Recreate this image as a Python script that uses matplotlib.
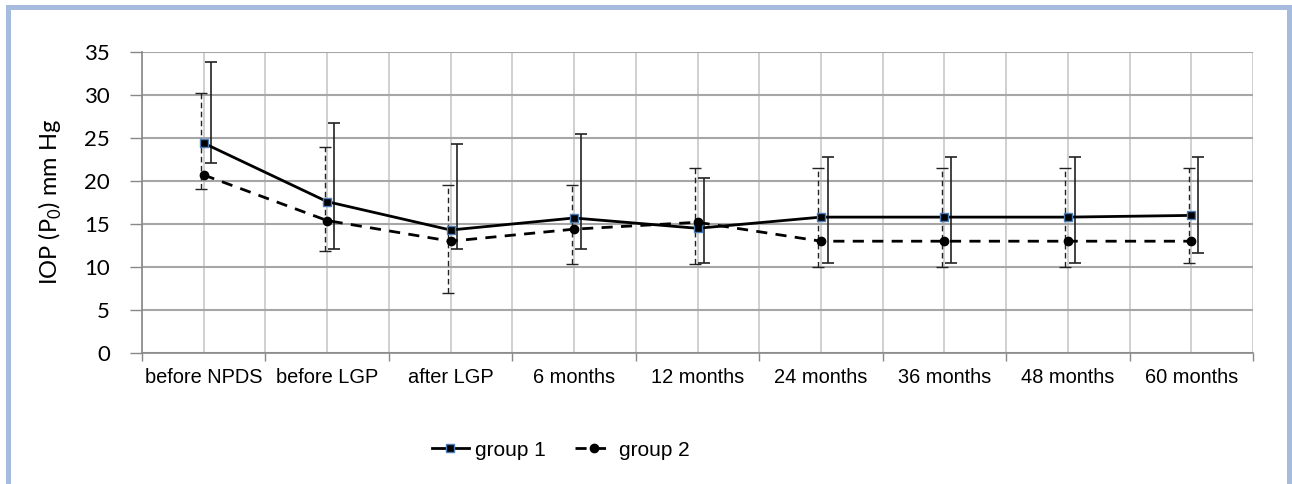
import matplotlib.pyplot as plt
from matplotlib.patches import Rectangle

# data
categories = ["before NPDS", "before LGP", "after LGP", "6 months", "12 months",
              "24 months", "36 months", "48 months", "60 months"]
g1_mean = [24.4, 17.6, 14.3, 15.7, 14.5, 15.8, 15.8, 15.8, 16.0]
g1_upper = [33.8, 26.8, 24.3, 25.5, 20.3, 22.8, 22.8, 22.8, 22.8]
g1_lower = [22.1, 12.1, 12.1, 12.1, 10.5, 10.5, 10.5, 10.5, 11.6]
g2_mean = [20.7, 15.4, 13.0, 14.4, 15.2, 13.0, 13.0, 13.0, 13.0]
g2_upper = [30.2, 24.0, 19.5, 19.5, 21.5, 21.5, 21.5, 21.5, 21.5]
g2_lower = [19.1, 11.9, 7.0, 10.4, 10.4, 10.0, 10.0, 10.0, 10.5]
y_ticks = [0, 5, 10, 15, 20, 25, 30, 35]

plt.rcParams["mathtext.fontset"] = "custom"
plt.rcParams["mathtext.rm"] = "Lato"

fig = plt.figure(figsize=(12.92, 4.84), dpi=100)
ax = fig.add_axes([142 / 1292, 131 / 484, 1111 / 1292, 301 / 484])

x = list(range(len(categories)))

# error bars (slightly shifted like in the original spreadsheet chart)
x1 = [i + 0.055 for i in x]
x2 = [i - 0.02 for i in x]
err1 = [[m - lo for m, lo in zip(g1_mean, g1_lower)], [u - m for m, u in zip(g1_mean, g1_upper)]]
err2 = [[m - lo for m, lo in zip(g2_mean, g2_lower)], [u - m for m, u in zip(g2_mean, g2_upper)]]
eb1 = ax.errorbar(x1, g1_mean, yerr=err1, fmt="none", ecolor="#222222", elinewidth=1.2,
                  capsize=4.5, capthick=1.2, zorder=3)
eb2 = ax.errorbar(x2, g2_mean, yerr=err2, fmt="none", ecolor="#222222", elinewidth=1.0,
                  capsize=4.5, capthick=1.0, zorder=3)
eb2[2][0].set_linestyle((0, (4, 2.5)))

# lines
ax.plot(x, g1_mean, color="black", lw=2, marker="s", markersize=5.5,
        markerfacecolor="black", markeredgecolor="#4a7ebb", markeredgewidth=1,
        label="group 1", zorder=4)
ax.plot(x, g2_mean, color="black", lw=2, linestyle=(0, (4, 3)), marker="o",
        markersize=6, markerfacecolor="black", markeredgecolor="black",
        label="group 2", zorder=4)

# axes
ax.set_xlim(-0.5, len(categories) - 0.5)
ax.set_ylim(0, 35)
ax.set_yticks(y_ticks)
ax.set_yticklabels([str(v) for v in y_ticks], fontsize=16, family="Lato")

bounds = [i - 0.5 for i in range(len(categories) + 1)]
ax.set_xticks(bounds)
ax.set_xticklabels([])
ax.set_xticks(x, minor=True)
ax.set_xticklabels(categories, minor=True, fontsize=14.4, family="Liberation Sans")
ax.tick_params(axis="x", which="major", length=6, width=1, color="#888888", direction="out")
ax.tick_params(axis="x", which="minor", length=0, pad=11)
ax.tick_params(axis="y", length=9, width=1, color="#888888", pad=14)

ax.yaxis.grid(True, color="#a6a6a6", lw=1.5)
ax.xaxis.grid(True, which="both", color="#c8c8c8", lw=1.2)
ax.set_axisbelow(True)

for side in ["top", "right"]:
    ax.spines[side].set_visible(False)
ax.spines["left"].set_color("#888888")
ax.spines["bottom"].set_color("#888888")
ax.spines["left"].set_linewidth(1.2)
ax.spines["bottom"].set_linewidth(1.2)

ax.set_ylabel("IOP (P$_\\mathregular{0}$) mm Hg", fontsize=17, family="Lato")
ax.yaxis.set_label_coords(-0.07, 0.5)

fig.legend(loc="center", bbox_to_anchor=(0.434, 0.07), ncol=2, frameon=False,
           prop={"family": "Liberation Sans", "size": 15}, handlelength=1.8,
           handletextpad=0.3, columnspacing=1.4)

# light blue frame around the picture
fig.patches.append(Rectangle((7.5 / 1292, -0.1), 1281 / 1292, 1.1 - 7.5 / 484,
                             transform=fig.transFigure, fill=False,
                             edgecolor="#a7bbdf", lw=3.6, clip_on=False))

fig.savefig("out.png", dpi=100)
